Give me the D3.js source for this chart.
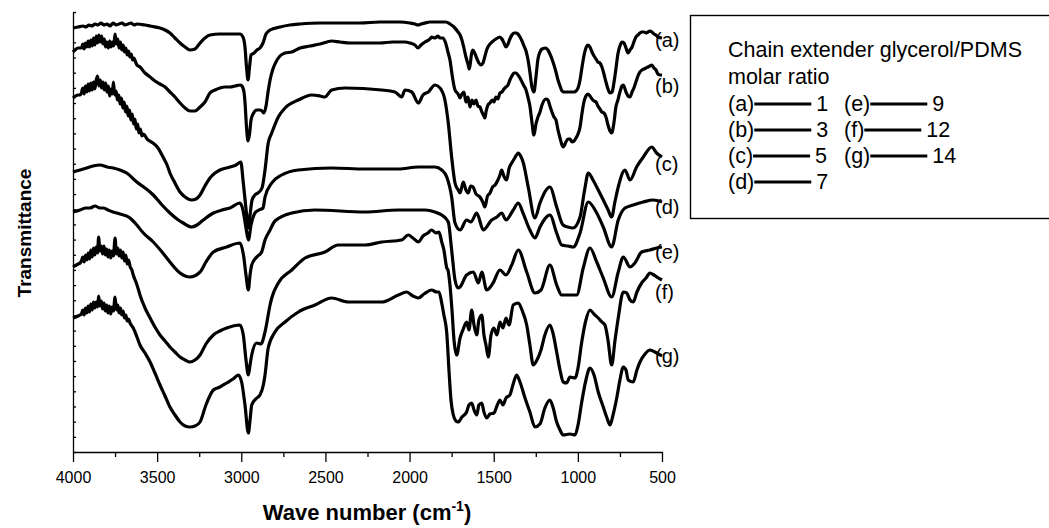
<!DOCTYPE html>
<html>
<head>
<meta charset="utf-8">
<script src="https://cdn.jsdelivr.net/npm/d3@7"></script>
<style>
  body { margin: 0; background: #fff; }
  svg { display: block; font-family: "Liberation Sans", Arial, sans-serif; }
</style>
</head>
<body>
<div id="viz-container"></div>
<script>
// FTIR spectra, [wave number (cm-1), transmittance (arb. units)]
let specA = [[4000,424],[3970,425],[3941,426],[3923,425],[3905,427],[3887,426],[3869,428],[3851,427],[3834,429],[3816,427],[3798,428],[3780,426],[3762,429],[3744,427],[3727,428],[3709,429],[3691,427],[3673,428],[3655,429],[3638,427],[3620,428],[3572,427],[3542,426],[3483,424],[3453,422],[3424,419],[3394,414],[3364,409],[3334,405],[3305,402],[3275,403],[3245,409],[3216,414],[3186,417],[3127,418],[3037,418],[3008,418],[2990,415],[2978,405],[2969,385],[2960,372],[2951,385],[2942,397],[2924,399],[2907,402],[2889,404],[2871,409],[2853,418],[2829,422],[2770,425],[2711,427],[2651,428],[2532,429],[2413,429],[2295,429],[2176,430],[2057,430],[1998,429],[1968,428],[1950,427],[1932,428],[1908,429],[1879,430],[1819,430],[1784,430],[1760,428],[1736,425],[1712,420],[1700,417],[1689,412],[1677,404],[1665,395],[1653,388],[1645,383],[1638,390],[1632,398],[1623,402],[1611,398],[1599,393],[1588,389],[1576,387],[1564,389],[1552,396],[1540,403],[1522,408],[1510,410],[1487,413],[1463,415],[1451,413],[1439,409],[1427,405],[1415,408],[1404,413],[1392,417],[1380,419],[1368,419],[1356,418],[1344,415],[1332,411],[1320,406],[1308,401],[1297,393],[1285,380],[1273,365],[1261,360],[1249,375],[1237,393],[1225,400],[1213,403],[1190,404],[1178,402],[1166,398],[1154,393],[1142,387],[1130,380],[1118,372],[1106,366],[1094,361],[1083,360],[1047,360],[1023,360],[1011,361],[999,364],[987,372],[976,384],[964,396],[952,404],[940,407],[928,405],[916,400],[904,396],[892,393],[881,390],[869,389],[857,385],[845,378],[833,370],[821,363],[809,359],[797,360],[785,370],[774,383],[762,398],[750,406],[738,410],[726,409],[714,404],[702,399],[690,402],[678,405],[667,410],[655,415],[643,417],[631,419],[619,420],[607,420],[595,419],[583,420],[572,421],[560,420],[548,418],[536,417],[524,415],[500,414]];

let specB = [[4000,400],[3988,402],[3970,404],[3958,404],[3950,404],[3942,408],[3934,403],[3926,409],[3918,405],[3910,411],[3902,405],[3894,412],[3886,406],[3878,414],[3870,407],[3862,416],[3854,409],[3846,417],[3838,410],[3830,416],[3822,408],[3814,413],[3806,405],[3798,410],[3790,404],[3782,411],[3774,405],[3766,410],[3758,406],[3750,418],[3742,408],[3734,413],[3726,404],[3718,410],[3710,402],[3702,407],[3694,400],[3686,404],[3678,397],[3670,401],[3662,395],[3654,398],[3646,392],[3638,394],[3626,389],[3620,387],[3602,385],[3572,379],[3542,375],[3513,371],[3483,368],[3453,365],[3424,360],[3394,355],[3364,349],[3334,344],[3305,341],[3275,341],[3245,345],[3216,350],[3186,359],[3156,362],[3127,364],[3097,365],[3067,365],[3037,366],[3008,367],[2996,366],[2984,360],[2978,350],[2969,325],[2960,311],[2951,318],[2942,332],[2930,338],[2907,342],[2889,342],[2877,341],[2865,339],[2853,346],[2841,360],[2829,372],[2812,383],[2794,390],[2770,396],[2740,399],[2700,400],[2651,404],[2592,406],[2532,408],[2463,411],[2413,410],[2354,409],[2265,409],[2176,409],[2100,410],[2027,410],[1998,409],[1968,407],[1950,404],[1932,407],[1908,410],[1879,413],[1869,415],[1849,414],[1831,416],[1819,414],[1801,414],[1784,408],[1772,400],[1760,392],[1748,378],[1736,366],[1730,362],[1712,358],[1700,354],[1689,358],[1677,360],[1665,350],[1653,355],[1641,345],[1629,352],[1617,348],[1605,352],[1594,346],[1582,345],[1570,340],[1558,336],[1552,334],[1546,340],[1534,347],[1522,349],[1510,352],[1499,350],[1487,355],[1475,353],[1463,359],[1451,360],[1439,363],[1427,365],[1415,367],[1404,372],[1392,376],[1380,379],[1368,379],[1356,377],[1344,374],[1332,370],[1320,366],[1308,362],[1297,355],[1285,346],[1273,330],[1261,317],[1249,328],[1237,335],[1225,340],[1213,347],[1190,353],[1178,352],[1166,346],[1154,340],[1142,335],[1130,332],[1118,322],[1106,314],[1094,307],[1087,305],[1071,310],[1059,313],[1047,313],[1035,310],[1023,311],[1011,314],[999,318],[987,325],[976,338],[964,350],[952,356],[940,358],[928,356],[916,353],[904,351],[892,350],[881,346],[869,343],[857,340],[845,339],[833,335],[821,327],[809,321],[799,319],[785,330],[774,345],[762,352],[750,360],[738,366],[730,367],[714,360],[702,356],[690,355],[678,360],[667,364],[655,370],[643,376],[631,380],[619,382],[607,383],[595,384],[583,385],[572,386],[560,387],[548,384],[536,382],[524,378],[512,377],[500,377]];

let specC = [[4000,354],[3970,357],[3958,357],[3950,359],[3942,364],[3934,358],[3926,366],[3918,360],[3910,368],[3902,361],[3894,369],[3886,362],[3878,370],[3870,363],[3862,372],[3854,376],[3846,366],[3838,372],[3830,364],[3822,370],[3814,362],[3806,369],[3798,360],[3790,366],[3782,356],[3774,363],[3766,358],[3760,370],[3752,357],[3744,361],[3736,352],[3728,357],[3720,348],[3712,354],[3704,344],[3696,350],[3688,340],[3680,346],[3672,336],[3664,342],[3656,332],[3648,338],[3640,328],[3632,333],[3624,323],[3616,328],[3608,319],[3600,323],[3590,316],[3580,318],[3560,313],[3525,309],[3495,304],[3465,295],[3441,287],[3424,279],[3394,269],[3364,260],[3334,255],[3295,252],[3269,253],[3245,257],[3216,266],[3186,274],[3156,279],[3127,282],[3067,285],[3031,287],[3003,290],[2988,269],[2968,237],[2958,224],[2948,237],[2936,252],[2919,257],[2901,259],[2877,264],[2859,282],[2840,309],[2819,319],[2780,335],[2740,344],[2661,352],[2582,357],[2532,356],[2503,355],[2463,362],[2384,364],[2166,362],[2087,360],[2047,355],[2027,362],[1987,360],[1948,349],[1920,357],[1889,360],[1849,367],[1819,364],[1790,352],[1770,329],[1750,295],[1730,269],[1711,262],[1700,259],[1681,270],[1665,262],[1651,259],[1637,266],[1623,265],[1605,258],[1582,255],[1565,250],[1552,245],[1537,256],[1522,259],[1507,265],[1492,267],[1475,272],[1463,277],[1453,282],[1440,276],[1423,272],[1408,284],[1393,289],[1375,294],[1354,299],[1340,296],[1324,289],[1295,265],[1255,234],[1225,249],[1166,265],[1126,245],[1088,227],[1060,225],[1029,224],[987,235],[960,262],[938,279],[910,272],[888,265],[849,252],[820,242],[799,235],[780,250],[760,265],[720,282],[690,272],[651,285],[611,295],[561,305],[532,299],[500,295]];

let specD = [[4000,280],[3958,282],[3919,284],[3881,286],[3840,287],[3798,285],[3761,284],[3721,282],[3681,279],[3621,270],[3572,264],[3523,257],[3471,247],[3424,239],[3382,233],[3345,229],[3295,225],[3263,227],[3226,232],[3166,239],[3115,242],[3067,244],[3008,249],[2990,242],[2972,224],[2958,212],[2942,227],[2919,239],[2895,242],[2871,244],[2859,255],[2819,269],[2760,277],[2661,282],[2463,284],[2265,283],[2067,283],[1948,285],[1849,285],[1809,282],[1779,275],[1750,255],[1730,229],[1700,222],[1661,232],[1635,230],[1601,239],[1562,222],[1512,232],[1481,235],[1453,239],[1427,232],[1384,242],[1354,249],[1326,239],[1285,222],[1255,214],[1225,225],[1166,237],[1126,219],[1096,207],[1060,206],[1027,205],[987,219],[938,250],[888,239],[849,225],[799,205],[760,232],[720,244],[671,247],[611,250],[552,252],[500,250]];

let specE = [[4000,240],[3958,242],[3923,244],[3899,244],[3869,246],[3840,244],[3820,244],[3792,242],[3762,240],[3721,238],[3661,234],[3626,228],[3582,219],[3523,210],[3471,200],[3424,190],[3364,179],[3305,175],[3245,180],[3210,190],[3166,200],[3087,205],[3008,209],[2987,197],[2972,177],[2958,162],[2948,177],[2938,187],[2908,195],[2879,200],[2859,212],[2829,222],[2800,231],[2700,239],[2562,242],[2265,240],[2067,242],[1908,242],[1849,240],[1809,237],[1770,230],[1750,202],[1730,172],[1712,164],[1700,165],[1661,177],[1621,180],[1591,169],[1571,180],[1542,162],[1504,169],[1463,182],[1427,177],[1393,187],[1354,202],[1304,180],[1255,159],[1219,162],[1166,187],[1126,167],[1096,157],[1007,157],[968,184],[928,204],[888,190],[849,174],[799,155],[760,180],[730,195],[690,185],[661,189],[621,200],[572,202],[532,204],[500,205]];

let specF = [[4000,185],[3970,188],[3958,189],[3950,191],[3942,195],[3934,190],[3926,197],[3918,192],[3910,199],[3902,193],[3894,202],[3886,195],[3878,204],[3870,197],[3862,205],[3854,199],[3848,215],[3840,201],[3832,206],[3824,198],[3816,206],[3808,197],[3800,203],[3792,195],[3784,202],[3776,194],[3768,201],[3760,196],[3750,214],[3742,198],[3734,204],[3726,196],[3718,202],[3710,194],[3702,200],[3694,191],[3686,197],[3678,188],[3670,192],[3660,185],[3650,182],[3642,177],[3626,170],[3614,164],[3602,157],[3572,144],[3542,134],[3513,125],[3483,117],[3453,111],[3424,105],[3394,100],[3364,95],[3334,92],[3305,90],[3275,92],[3245,97],[3210,108],[3166,117],[3127,121],[3087,124],[3008,127],[2988,117],[2972,92],[2958,77],[2948,87],[2938,97],[2908,109],[2883,108],[2859,120],[2829,147],[2819,154],[2780,169],[2700,182],[2621,194],[2503,200],[2424,207],[2265,207],[2166,210],[2047,212],[2008,217],[1980,214],[1948,210],[1920,216],[1891,219],[1869,222],[1843,219],[1825,220],[1809,210],[1796,202],[1779,184],[1772,182],[1760,167],[1748,142],[1736,112],[1720,97],[1700,114],[1683,122],[1661,130],[1647,122],[1631,142],[1617,127],[1601,117],[1588,132],[1571,137],[1558,117],[1546,107],[1532,95],[1516,117],[1499,124],[1481,117],[1463,130],[1445,124],[1427,134],[1409,127],[1384,147],[1354,149],[1332,142],[1304,127],[1285,107],[1265,87],[1243,92],[1219,102],[1196,117],[1166,127],[1148,119],[1126,100],[1106,82],[1087,70],[1067,69],[1047,75],[1017,74],[999,84],[977,110],[952,132],[928,142],[904,138],[879,134],[857,130],[839,127],[821,112],[799,87],[779,112],[760,134],[730,160],[710,159],[690,152],[671,150],[649,160],[621,169],[595,174],[572,179],[548,177],[522,174],[500,172]];

let specG = [[4000,134],[3970,136],[3958,137],[3950,138],[3942,142],[3934,137],[3926,144],[3918,139],[3910,146],[3902,140],[3894,148],[3886,142],[3878,150],[3870,144],[3862,150],[3854,145],[3848,156],[3840,146],[3832,151],[3824,143],[3816,149],[3808,141],[3800,147],[3792,139],[3784,146],[3776,138],[3768,145],[3760,141],[3750,155],[3742,142],[3734,147],[3726,139],[3718,144],[3710,137],[3702,141],[3694,134],[3686,137],[3678,131],[3670,133],[3661,129],[3650,126],[3642,124],[3620,115],[3602,107],[3572,99],[3542,90],[3513,79],[3483,67],[3453,56],[3424,45],[3394,37],[3364,30],[3334,26],[3305,25],[3275,26],[3245,30],[3210,47],[3166,62],[3127,65],[3087,69],[3049,73],[3018,77],[2998,70],[2978,47],[2958,19],[2948,32],[2938,47],[2908,54],[2889,57],[2869,67],[2859,77],[2840,104],[2800,120],[2740,130],[2661,140],[2562,147],[2463,154],[2364,150],[2166,150],[2067,157],[2017,160],[1980,156],[1948,154],[1914,158],[1869,162],[1839,160],[1825,160],[1809,149],[1796,137],[1779,119],[1766,82],[1754,52],[1740,37],[1724,31],[1711,30],[1689,35],[1661,40],[1647,47],[1631,49],[1617,42],[1601,37],[1588,47],[1571,49],[1558,40],[1542,34],[1522,38],[1499,39],[1481,46],[1463,52],[1445,47],[1427,54],[1404,57],[1386,67],[1364,77],[1344,70],[1314,54],[1285,40],[1255,25],[1225,28],[1196,44],[1166,52],[1148,45],[1126,30],[1106,22],[1087,17],[1047,18],[1017,17],[999,27],[977,50],[952,72],[928,84],[904,77],[879,60],[849,45],[827,34],[809,27],[791,37],[769,54],[750,72],[730,85],[714,82],[701,72],[671,70],[649,82],[631,90],[601,98],[572,102],[532,99],[500,96]];

let spectra = [specA, specB, specC, specD, specE, specF, specG];
let curveLabels = ['(a)','(b)','(c)','(d)','(e)','(f)','(g)'];
let molarRatios = [1, 3, 5, 7, 9, 12, 14];
let xTicks = [4000, 3500, 3000, 2500, 2000, 1500, 1000, 500];
let xMinorTicks = [3750, 3250, 2750, 2250, 1750, 1250, 750];

let width = 1049, height = 528;
let margin = {left: 73, top: 12, right: 387, bottom: 76};
let fontFam = '"Liberation Sans", Arial, sans-serif';

let viz = d3.select('#viz-container')
  .append('svg')
  .attr('width', width)
  .attr('height', height);

let xScale = d3.scaleLinear().domain([4000, 500]).range([margin.left, width - margin.right]);
let yScale = d3.scaleLinear().domain([0, 440]).range([height - margin.bottom, margin.top]);

// x axis: major + minor ticks pointing out
let xAxis = viz.append('g')
  .attr('transform', 'translate(0,' + (height - margin.bottom) + ')')
  .call(d3.axisBottom(xScale).tickValues(xTicks).tickSize(10).tickSizeOuter(0).tickPadding(10).tickFormat(d3.format('d')));
xAxis.selectAll('text').attr('font-size', 16).attr('font-family', fontFam).attr('fill', '#000');
xAxis.selectAll('line, path').attr('stroke', '#000').attr('stroke-width', 1.3);

viz.append('g')
  .attr('transform', 'translate(0,' + (height - margin.bottom) + ')')
  .call(d3.axisBottom(xScale).tickValues(xMinorTicks).tickSize(5).tickFormat(''))
  .call(g => g.select('.domain').remove())
  .selectAll('line').attr('stroke', '#000').attr('stroke-width', 1.3);

// y axis: only small inner ticks, no labels
let yTickVals = d3.range(0, 30).map(i => i * 440 / 29);
let yAxis = viz.append('g')
  .attr('transform', 'translate(' + margin.left + ',0)')
  .call(d3.axisLeft(yScale).tickValues(yTickVals).tickSize(-3).tickSizeOuter(0).tickFormat(''));
yAxis.selectAll('line, path').attr('stroke', '#000').attr('stroke-width', 1.3);

// spectra
let line = d3.line()
  .x(d => xScale(d[0]))
  .y(d => yScale(d[1]))
  .curve(d3.curveMonotoneX);

viz.selectAll('.spectrum').data(spectra).enter()
  .append('path')
  .attr('class', 'spectrum')
  .attr('d', line)
  .attr('fill', 'none')
  .attr('stroke', '#000')
  .attr('stroke-width', 3.2)
  .attr('stroke-linejoin', 'round');

// (a)..(g) at the end of each trace, nudged down by hand like the original
let labelNudge = [9, 18, 14, 12, 12, 19, 7];
viz.selectAll('.curveLabel').data(spectra).enter()
  .append('text')
  .attr('class', 'curveLabel')
  .attr('x', d => xScale(500) - 7)
  .attr('y', (d, i) => yScale(d[d.length - 1][1]) + labelNudge[i])
  .attr('font-size', 20)
  .attr('font-family', fontFam)
  .text((d, i) => curveLabels[i]);

// axis titles
viz.append('text')
  .attr('transform', 'translate(31,233) rotate(-90)')
  .attr('text-anchor', 'middle')
  .attr('font-size', 19)
  .attr('font-weight', 'bold')
  .attr('font-family', fontFam)
  .text('Transmittance');

let xTitle = viz.append('text')
  .attr('x', 367)
  .attr('y', 520)
  .attr('text-anchor', 'middle')
  .attr('font-size', 22)
  .attr('font-weight', 'bold')
  .attr('font-family', fontFam);
xTitle.append('tspan').text('Wave number (cm');
xTitle.append('tspan').attr('font-size', 14).attr('dy', -9).text('-1');
xTitle.append('tspan').attr('dy', 9).text(')');

// legend box
let legend = viz.append('g');
legend.append('rect')
  .attr('x', 690.5).attr('y', 15.5)
  .attr('width', 370).attr('height', 203)
  .attr('fill', 'none').attr('stroke', '#000').attr('stroke-width', 1.4);

let legendFont = 21.5;
legend.append('text').attr('x', 728).attr('y', 57)
  .attr('font-size', legendFont).attr('font-family', fontFam)
  .text('Chain extender glycerol/PDMS');
legend.append('text').attr('x', 728).attr('y', 84)
  .attr('font-size', legendFont).attr('font-family', fontFam)
  .text('molar ratio');

curveLabels.forEach(function(lab, i) {
  let col = i < 4 ? 0 : 1;
  let row = i < 4 ? i : i - 4;
  let x0 = col == 0 ? 728 : 844;
  let yb = 111 + row * 26;
  let t = legend.append('text').attr('x', x0).attr('y', yb)
    .attr('font-size', legendFont).attr('font-family', fontFam).text(lab);
  let x1 = x0 + t.node().getComputedTextLength();
  legend.append('line')
    .attr('x1', x1).attr('x2', x1 + 57)
    .attr('y1', yb - 7).attr('y2', yb - 7)
    .attr('stroke', '#000').attr('stroke-width', 3.2);
  legend.append('text').attr('x', x1 + 62).attr('y', yb)
    .attr('font-size', legendFont).attr('font-family', fontFam).text(molarRatios[i]);
});
</script>
</body>
</html>
